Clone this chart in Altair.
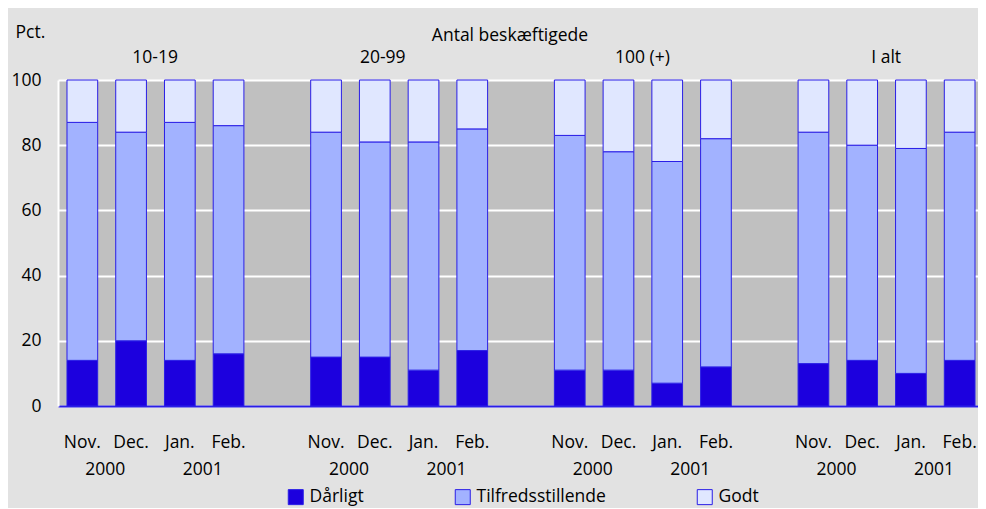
import altair as alt
import pandas as pd

groups = ["10-19", "20-99", "100 (+)", "I alt"]
months = ["Nov.", "Dec.", "Jan.", "Feb."]
years = ["2000", "2001"]
series = ["Dårligt", "Tilfredsstillende", "Godt"]
darligt = [14, 20, 14, 16, 15, 15, 11, 17, 11, 11, 7, 12, 13, 14, 10, 14]
tilfreds = [73, 64, 73, 70, 69, 66, 70, 68, 72, 67, 68, 70, 71, 66, 69, 70]
godt = [13, 16, 13, 14, 16, 19, 19, 15, 17, 22, 25, 18, 16, 20, 21, 16]
title_text = "Antal beskæftigede"
y_title = "Pct."
y_ticks = [0, 20, 40, 60, 80, 100]

colors = ["#1c00de", "#a2b2ff", "#e0e7ff"]
stroke_col = "#2a1ee6"
FONT = "Open Sans"
FS = 17.5

slots = []
for gi, g in enumerate(groups):
    if gi > 0:
        slots.append(f"gap{gi}")
    for m in months:
        slots.append(f"{g}|{m}")

rows = []
for s_i, (name, vals) in enumerate(zip(series, [darligt, tilfreds, godt])):
    for k, v in enumerate(vals):
        g = groups[k // 4]
        m = months[k % 4]
        rows.append({"slot": f"{g}|{m}", "serie": name, "value": v, "ord": s_i})
df = pd.DataFrame(rows)

year_rows = []
for g in groups:
    year_rows.append({"slot": f"{g}|Nov.", "year": years[0]})
    year_rows.append({"slot": f"{g}|Jan.", "year": years[1]})
year_df = pd.DataFrame(year_rows)

grp_df = pd.DataFrame({"slot": [f"{g}|Dec." for g in groups], "label": groups})

x_scale = alt.Scale(domain=slots, paddingInner=0.37, paddingOuter=0.123, align=0.75)

bars = alt.Chart(df).mark_bar(stroke=stroke_col, strokeWidth=1).encode(
    x=alt.X(
        "slot:N",
        scale=x_scale,
        sort=slots,
        axis=alt.Axis(
            title=None,
            labelExpr="indexof(datum.value, '|') >= 0 ? split(datum.value, '|')[1] : ''",
            labelAngle=0,
            ticks=False,
            domainColor=stroke_col,
            domainWidth=2,
            labelFontSize=FS,
            labelPadding=27,
            labelColor="black",
            labelFont=FONT,
            grid=False,
        ),
    ),
    y=alt.Y(
        "value:Q",
        stack="zero",
        scale=alt.Scale(domain=[0, 100], nice=False),
        axis=alt.Axis(
            values=y_ticks,
            title=y_title,
            titleAngle=0,
            titleAlign="left",
            titleX=-43,
            titleY=-48,
            titleBaseline="middle",
            titleFontSize=FS,
            titleFontWeight="normal",
            titleFont=FONT,
            titleColor="black",
            gridColor="white",
            gridWidth=2,
            domainColor="white",
            domainWidth=2,
            ticks=False,
            labelFontSize=FS,
            labelPadding=17,
            labelFont=FONT,
            labelColor="black",
        ),
    ),
    color=alt.Color(
        "serie:N",
        scale=alt.Scale(domain=series, range=colors),
        legend=alt.Legend(
            title=None,
            orient="none",
            legendX=229,
            legendY=408,
            direction="horizontal",
            columnPadding=89,
            symbolType="square",
            symbolSize=225,
            symbolStrokeColor=stroke_col,
            symbolStrokeWidth=1,
            symbolOpacity=1,
            labelFontSize=FS,
            labelFont=FONT,
            labelColor="black",
            labelOffset=5,
        ),
    ),
    order=alt.Order("ord:Q"),
)

year_text = alt.Chart(year_df).mark_text(
    dx=23, fontSize=FS, font=FONT, baseline="middle", color="black"
).encode(x=alt.X("slot:N", scale=x_scale), y=alt.value(390), text="year:N")

grp_main = alt.Chart(grp_df[grp_df["label"] != "20-99"]).mark_text(
    dx=24, fontSize=FS, font=FONT, baseline="middle", color="black"
).encode(x=alt.X("slot:N", scale=x_scale), y=alt.value(-22), text="label:N")

grp_2099 = alt.Chart(grp_df[grp_df["label"] == "20-99"]).mark_text(
    dx=8, fontSize=FS, font=FONT, baseline="middle", color="black"
).encode(x=alt.X("slot:N", scale=x_scale), y=alt.value(-22), text="label:N")

title = alt.Chart(pd.DataFrame({"t": [title_text]})).mark_text(
    fontSize=FS, font=FONT, baseline="middle", color="black"
).encode(x=alt.value(452), y=alt.value(-44), text="t:N")

chart = alt.layer(bars, year_text, grp_main, grp_2099, title).properties(
    width=920,
    height=326,
    padding={"left": 50, "top": 72, "right": 0, "bottom": 102},
    autosize=alt.AutoSizeParams(type="none"),
).configure(background="#e2e2e2", font=FONT).configure_view(
    fill="#c0c0c0", stroke="transparent"
)

chart.save("out.html", embed_options={"renderer": "svg", "actions": False})
